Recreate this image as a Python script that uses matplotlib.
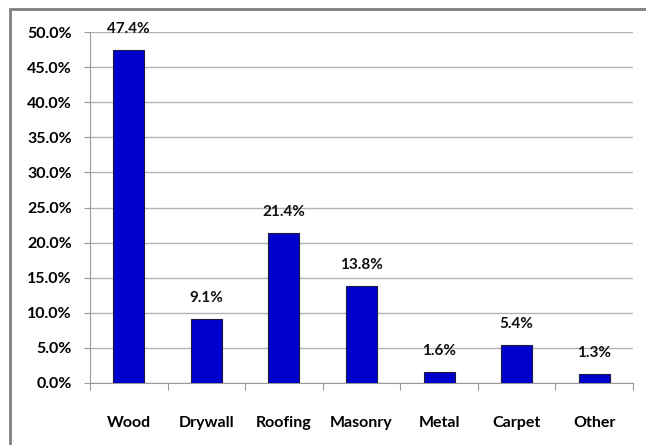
import matplotlib
matplotlib.use("Agg")
import matplotlib.pyplot as plt
from matplotlib.patches import Rectangle
from matplotlib.ticker import FuncFormatter, MultipleLocator, FixedLocator, NullFormatter

materials = ["Wood", "Drywall", "Roofing", "Masonry", "Metal", "Carpet", "Other"]
shares = [47.4, 9.1, 21.4, 13.8, 1.6, 5.4, 1.3]

plt.rcParams["font.family"] = ["Lato", "DejaVu Sans"]
plt.rcParams["font.weight"] = "bold"

fig = plt.figure(figsize=(6.46, 4.45), dpi=100)

# outer chart frame
fig.patches.append(Rectangle((10 / 646, -0.05), 1.2, 1 - 9 / 445 + 0.05,
                             transform=fig.transFigure, fill=False,
                             edgecolor="#7f7f7f", linewidth=2))

ax = fig.add_axes([90 / 646, 1 - 383 / 445, (633 - 90) / 646, (383 - 32) / 445])

x = range(len(materials))
ax.bar(x, shares, width=0.4, color="#0000CC", edgecolor="#1a1a40", linewidth=0.8, zorder=3)

for xi, v in zip(x, shares):
    ax.annotate(f"{v:.1f}%", (xi, v), xytext=(0, 10), textcoords="offset points",
                ha="center", va="bottom", fontsize=11, fontweight="bold", color="#111111")

ax.set_xlim(-0.5, len(materials) - 0.5)
ax.set_ylim(0, 50)
ax.yaxis.set_major_locator(MultipleLocator(5))
ax.yaxis.set_major_formatter(FuncFormatter(lambda v, p: f"{v:.1f}%"))
ax.grid(axis="y", color="#b3b3b3", linewidth=1, zorder=0)

# category labels centered, tick marks between categories
ax.xaxis.set_major_locator(FixedLocator([i - 0.5 for i in range(len(materials) + 1)]))
ax.xaxis.set_major_formatter(NullFormatter())
ax.xaxis.set_minor_locator(FixedLocator(list(x)))
ax.set_xticklabels(materials, minor=True)
ax.tick_params(axis="x", which="major", length=5, color="#999999", direction="out")
ax.tick_params(axis="x", which="minor", length=0, pad=24, labelsize=11.5)
ax.tick_params(axis="y", length=4, color="#999999", pad=9, labelsize=11.5)

for side in ["top", "right"]:
    ax.spines[side].set_visible(False)
for side in ["left", "bottom"]:
    ax.spines[side].set_color("#999999")

fig.savefig("out.png", dpi=100)
